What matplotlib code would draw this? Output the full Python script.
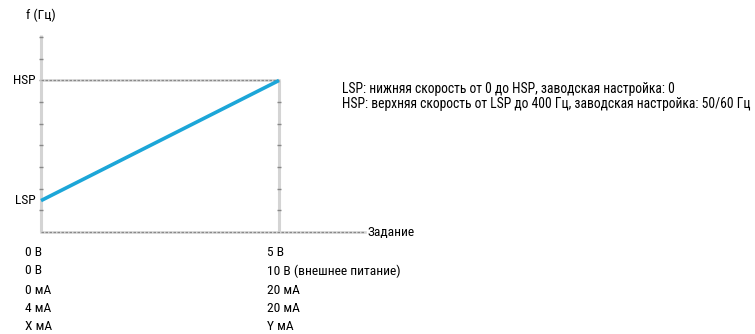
import matplotlib
matplotlib.use("Agg")
import matplotlib.pyplot as plt
from matplotlib import font_manager

# setpoint (V) and frequency levels of the ramp, in grid steps
setpoint = [0, 5]
freq = [1.45, 7.0]
y_top = 9.1
x_end = 6.8
grid_steps = [1, 2, 3, 4, 5, 6, 7, 8, 9]

left_labels = ["0 В", "0 В", "0 мА", "4 мА", "X мА"]
right_labels = ["5 В", "10 В (внешнее питание)", "20 мА", "20 мА", "Y мА"]
notes = ["LSP: нижняя скорость от 0 до HSP, заводская настройка: 0",
         "HSP: верхняя скорость от LSP до 400 Гц, заводская настройка: 50/60 Гц"]

names = {f.name for f in font_manager.fontManager.ttflist}
for fam in ["Liberation Sans Narrow", "DejaVu Sans Condensed", "Roboto Condensed", "Liberation Sans"]:
    if fam in names:
        plt.rcParams["font.family"] = [fam, "DejaVu Sans"]
        break

W, H = 755, 334
fig = plt.figure(figsize=(W / 100, H / 100), dpi=100)
x0, x1 = 41, 279
yb, yt = 232, 35
ax = fig.add_axes([x0 / W, 1 - yb / H, (x1 - x0) / W, (yb - yt) / H])
ax.set_xlim(setpoint[0], setpoint[1])
ax.set_ylim(0, y_top)
ax.axis("off")

axis_col = "#d4d4d4"
dash_col = "#8a8a8a"
# y axis
ax.plot([0, 0], [0, y_top], color=axis_col, lw=2.2, clip_on=False, solid_capstyle="butt")
ax.plot([0] * len(grid_steps), grid_steps, ls="none", marker="_", ms=3, mew=1, color="#888888", clip_on=False)
# right vertical at the max setpoint
ax.plot([setpoint[1]] * 2, [0, freq[1]], color=axis_col, lw=2.2, clip_on=False, solid_capstyle="butt")
rt = [g for g in grid_steps if g < freq[1]]
ax.plot([setpoint[1]] * len(rt), rt, ls="none", marker="_", ms=3, mew=1, color="#888888", clip_on=False)
# x axis
ax.plot([0, x_end], [0, 0], color=axis_col, lw=1.8, clip_on=False)
ax.plot([0, x_end], [0, 0], color=dash_col, lw=0.9, ls=(0, (2, 1.2)), clip_on=False)
# HSP level
ax.plot([0, setpoint[1]], [freq[1]] * 2, color=axis_col, lw=1.8, clip_on=False)
ax.plot([0, setpoint[1]], [freq[1]] * 2, color=dash_col, lw=0.9, ls=(0, (2, 1.2)), clip_on=False)

# ramp
ax.plot(setpoint, freq, color="#1ca6d8", lw=2.6, solid_capstyle="butt", clip_on=False)

fs = 9.7
ax.text(0, y_top + 0.9, "f (Гц)", ha="center", va="center", fontsize=fs)
ax.text(-0.12, freq[1], "HSP", ha="right", va="center", fontsize=fs)
ax.text(-0.12, freq[0], "LSP", ha="right", va="center", fontsize=fs)
ax.text(x_end + 0.05, 0, "Задание", ha="left", va="center", fontsize=fs)

row_y = [252, 271, 290, 308, 327]
for lab, ry in zip(left_labels, row_y):
    fig.text(25 / W, 1 - ry / H, lab, ha="left", va="center", fontsize=fs)
for lab, ry in zip(right_labels, row_y):
    fig.text(267 / W, 1 - ry / H, lab, ha="left", va="center", fontsize=fs)

for lab, ny in zip(notes, [89, 104]):
    fig.text(342 / W, 1 - ny / H, lab, ha="left", va="center", fontsize=9.8)

fig.savefig("out.png", dpi=100, facecolor="white")
